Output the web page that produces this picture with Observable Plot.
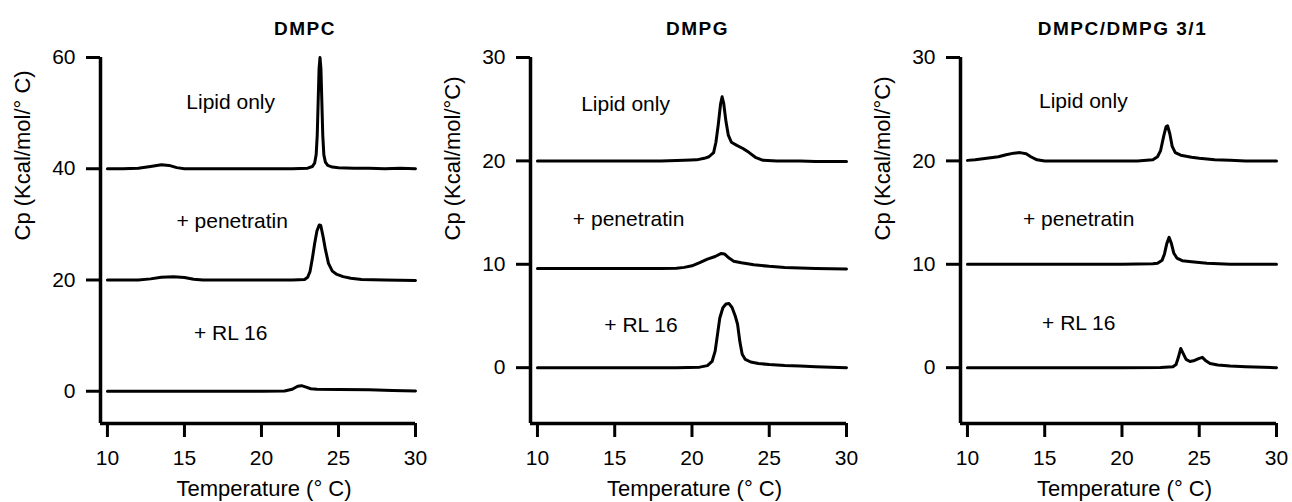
<!DOCTYPE html>
<html>
<head>
<meta charset="utf-8">
<script src="https://cdn.jsdelivr.net/npm/d3@7"></script>
<script src="https://cdn.jsdelivr.net/npm/@observablehq/plot@0.6"></script>
<style>
  html, body { margin: 0; padding: 0; background: #fff; }
  #row { display: flex; flex-direction: row; width: 1292px; height: 502px; }
  svg { display: block; }
</style>
</head>
<body>
<div id="row"></div>
<script>
// ---------- shared labels / ticks ----------
const panelTitles = ["DMPC", "DMPG", "DMPC/DMPG 3/1"];
const seriesNames = ["Lipid only", "+ penetratin", "+ RL 16"];
const xTicks = [10, 15, 20, 25, 30];
const xLabel = "Temperature (° C)";
const yLabels = ["Cp (Kcal/mol/° C)", "Cp (Kcal/mol/°C)", "Cp (Kcal/mol/°C)"];
const yTicksDMPC = [0, 20, 40, 60];
const yTicksDMPG = [0, 10, 20, 30];
const yTicksMix = [0, 10, 20, 30];

// ---------- DMPC ----------
const dmpcLipidT  = [10, 11, 12, 12.8, 13.5, 14.0, 14.5, 15, 16, 18, 20, 22, 23.0, 23.3, 23.45, 23.55, 23.62, 23.68, 23.74, 23.8, 23.86, 23.92, 23.98, 24.05, 24.15, 24.3, 24.6, 25, 26, 27, 28, 29, 30];
const dmpcLipidCp = [40.0, 40.0, 40.1, 40.4, 40.7, 40.6, 40.2, 40.0, 40.0, 40.0, 40.0, 40.0, 40.1, 40.4, 41.0, 42.5, 46, 52, 58, 60, 58, 52, 46, 42.5, 41.2, 40.6, 40.3, 40.2, 40.1, 40.1, 40.0, 40.1, 40.0];
const dmpcPenT  = [10, 12, 12.8, 13.5, 14.3, 15.0, 15.6, 16.2, 18, 20, 22, 22.8, 23.0, 23.15, 23.3, 23.45, 23.6, 23.75, 23.85, 24.0, 24.15, 24.35, 24.6, 24.9, 25.3, 25.8, 26.5, 28, 30];
const dmpcPenCp = [20.0, 20.0, 20.2, 20.5, 20.6, 20.45, 20.15, 20.0, 20.0, 20.0, 20.0, 20.1, 20.5, 21.5, 23.8, 26.5, 28.8, 29.9, 29.8, 27.8, 25.5, 23.0, 21.6, 21.0, 20.6, 20.3, 20.1, 20.0, 19.9];
const dmpcRlT  = [10, 15, 20, 21.5, 22.0, 22.35, 22.6, 22.9, 23.2, 23.6, 25, 27, 28.5, 30];
const dmpcRlCp = [0, 0, 0, 0.05, 0.35, 0.9, 1.0, 0.75, 0.45, 0.35, 0.3, 0.25, 0.15, 0.05];

// ---------- DMPG ----------
const dmpgLipidT  = [10, 14, 18, 19.5, 20.3, 20.8, 21.1, 21.4, 21.55, 21.7, 21.85, 21.95, 22.05, 22.2, 22.35, 22.55, 22.9, 23.3, 23.7, 24.1, 24.6, 25.5, 27, 28, 30];
const dmpgLipidCp = [20, 20, 20, 20.05, 20.1, 20.25, 20.4, 20.8, 21.8, 23.5, 25.5, 26.2, 25.6, 23.8, 22.5, 21.8, 21.5, 21.2, 20.8, 20.35, 20.05, 20.0, 20.0, 19.95, 19.95];
const dmpgPenT  = [10, 15, 18, 19.0, 19.5, 20.0, 20.5, 21.0, 21.5, 21.9, 22.1, 22.4, 22.7, 23.2, 24, 25, 26, 27, 28, 30];
const dmpgPenCp = [9.6, 9.6, 9.6, 9.62, 9.7, 9.85, 10.15, 10.5, 10.75, 11.05, 11.0, 10.6, 10.3, 10.15, 9.95, 9.8, 9.7, 9.65, 9.6, 9.55];
const dmpgRlT  = [10, 15, 19, 20.5, 21.0, 21.3, 21.5, 21.65, 21.8, 22.0, 22.2, 22.4, 22.6, 22.8, 22.95, 23.1, 23.25, 23.45, 23.8, 24.3, 25, 26, 27, 28, 30];
const dmpgRlCp = [0, 0, 0, 0.05, 0.2, 0.6, 1.6, 3.2, 4.8, 5.8, 6.15, 6.2, 5.8, 5.0, 4.2, 2.5, 1.3, 0.8, 0.55, 0.4, 0.3, 0.2, 0.15, 0.1, 0.0];

// ---------- DMPC/DMPG 3/1 ----------
const mixLipidT  = [10, 10.5, 11, 11.5, 12, 12.5, 13.0, 13.4, 13.8, 14.1, 14.5, 15, 18, 21, 22.0, 22.3, 22.5, 22.7, 22.85, 22.95, 23.1, 23.25, 23.45, 23.8, 24.5, 25, 26, 27, 28, 30];
const mixLipidCp = [20.05, 20.1, 20.2, 20.3, 20.4, 20.6, 20.75, 20.8, 20.7, 20.4, 20.1, 20.0, 20.0, 20.0, 20.1, 20.4, 21.0, 22.4, 23.3, 23.4, 22.6, 21.4, 20.8, 20.55, 20.35, 20.25, 20.1, 20.05, 20.0, 20.0];
const mixPenT  = [10, 15, 20, 22.0, 22.3, 22.6, 22.75, 22.9, 23.05, 23.2, 23.35, 23.55, 23.9, 24.5, 25.5, 27, 30];
const mixPenCp = [10.0, 10.0, 10.0, 10.05, 10.1, 10.4, 11.0, 12.0, 12.6, 12.0, 11.1, 10.6, 10.35, 10.25, 10.1, 10.0, 10.0];
const mixRlT  = [10, 20, 22.5, 23.3, 23.5, 23.65, 23.8, 23.95, 24.15, 24.4, 24.7, 25.0, 25.2, 25.4, 25.7, 26.2, 27, 28, 30];
const mixRlCp = [0, 0, 0.02, 0.1, 0.3, 1.0, 1.85, 1.4, 0.8, 0.6, 0.7, 0.9, 1.0, 0.7, 0.4, 0.25, 0.15, 0.1, 0.0];

// ---------- label anchors (data units) ----------
const dmpcLabelT  = [18.0, 18.1, 18.0];
const dmpcLabelCp = [51.9, 30.6, 10.4];
const dmpgLabelT  = [15.7, 15.9, 16.7];
const dmpgLabelCp = [25.5, 14.4, 4.1];
const mixLabelT   = [17.5, 17.2, 17.2];
const mixLabelCp  = [25.8, 14.4, 4.25];

const FONT = '"Liberation Sans", Arial, Helvetica, sans-serif';
const X_MIN = 9.55;

function toRows(T, Cp) { return T.map((t, i) => ({t, cp: Cp[i]})); }

function panel(cfg) {
  const lines = cfg.series.map(([T, Cp]) =>
    Plot.line(toRows(T, Cp), {x: "t", y: "cp", stroke: "black", strokeWidth: 3, strokeLinejoin: "round", strokeLinecap: "round"}));
  const labels = seriesNames.map((s, i) => ({s, t: cfg.labelT[i], cp: cfg.labelCp[i]}));
  const svg = Plot.plot({
    width: cfg.width,
    height: 502,
    marginLeft: 100,
    marginRight: cfg.marginRight,
    marginTop: 57,
    marginBottom: 79,
    style: {fontFamily: FONT, color: "black", background: "white", overflow: "visible"},
    x: {domain: [X_MIN, 30]},
    y: {domain: cfg.yDomain},
    marks: [
      Plot.axisX({ticks: xTicks, tickSize: 14, tickPadding: 13, strokeWidth: 3, fontSize: 21, label: null}),
      Plot.axisY({ticks: cfg.yTicks, tickSize: 14, tickPadding: 11, strokeWidth: 3, fontSize: 21, label: null}),
      Plot.ruleX([X_MIN], {stroke: "black", strokeWidth: 3.5}),
      Plot.ruleY([cfg.yDomain[0]], {stroke: "black", strokeWidth: 3.5}),
      ...lines,
      Plot.text(labels, {x: "t", y: "cp", text: "s", fontSize: 21, fill: "black"}),
      Plot.text([cfg.title], {text: d => d, frameAnchor: "top", dy: -36, dx: cfg.titleDx, fontSize: 19, fontWeight: "bold", fill: "black"}),
      Plot.text([xLabel], {text: d => d, frameAnchor: "bottom", dy: 72, dx: 6, fontSize: 22, fill: "black"}),
      Plot.text([cfg.yLabel], {text: d => d, frameAnchor: "left", dx: -78, rotate: -90, fontSize: 22, fill: "black"})
    ]
  });
  svg.querySelectorAll('[font-weight="bold"]').forEach(g => g.setAttribute("letter-spacing", "1.5"));
  return svg;
}

const row = document.getElementById("row");
row.appendChild(panel({
  title: panelTitles[0], titleDx: 47, width: 430, marginRight: 15,
  yDomain: [-5.8, 60], yTicks: yTicksDMPC, yLabel: yLabels[0],
  series: [[dmpcLipidT, dmpcLipidCp], [dmpcPenT, dmpcPenCp], [dmpcRlT, dmpcRlCp]],
  labelT: dmpcLabelT, labelCp: dmpcLabelCp
}));
row.appendChild(panel({
  title: panelTitles[1], titleDx: 9, width: 430, marginRight: 14,
  yDomain: [-5.4, 30], yTicks: yTicksDMPG, yLabel: yLabels[1],
  series: [[dmpgLipidT, dmpgLipidCp], [dmpgPenT, dmpgPenCp], [dmpgRlT, dmpgRlCp]],
  labelT: dmpgLabelT, labelCp: dmpgLabelCp
}));
row.appendChild(panel({
  title: panelTitles[2], titleDx: 4, width: 432, marginRight: 16,
  yDomain: [-5.4, 30], yTicks: yTicksMix, yLabel: yLabels[2],
  series: [[mixLipidT, mixLipidCp], [mixPenT, mixPenCp], [mixRlT, mixRlCp]],
  labelT: mixLabelT, labelCp: mixLabelCp
}));
</script>
</body>
</html>
